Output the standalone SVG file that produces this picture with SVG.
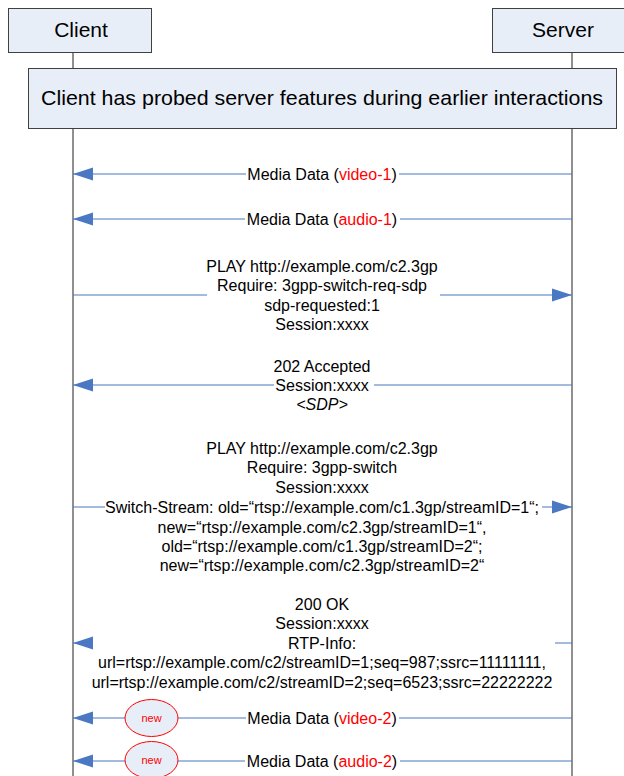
<svg xmlns="http://www.w3.org/2000/svg" width="624" height="776" viewBox="0 0 624 776">
<defs>
<style>
.box{fill:#E8EEF8;stroke:#404040;stroke-width:1}
.life{stroke:#555;stroke-width:1.3;fill:none}
.msg{stroke:#4A78C2;stroke-width:1.2;fill:none;marker-end:url(#ah)}
.t{font-family:"Liberation Sans",Arial,sans-serif;font-size:16px;fill:#000;text-anchor:middle}
.h{font-family:"Liberation Sans",Arial,sans-serif;font-size:21px;fill:#000;text-anchor:middle}
.r{fill:#FF0000}
.new{fill:#E8EEF8;stroke:#FF0000;stroke-width:1}
.nt{font-family:"Liberation Sans",Arial,sans-serif;font-size:11px;fill:#FF0000;text-anchor:middle}
</style>
<marker id="ah" markerUnits="userSpaceOnUse" markerWidth="20" markerHeight="14" refX="20" refY="7" orient="auto">
<path d="M0,0.5 L20,7 L0,13.5 z" fill="#4A78C2"/>
</marker>
</defs>
<rect width="624" height="776" fill="#fff"/>
<g id="lifelines">
<path class="life" d="M73,52 V68 M73,128 V776"/>
<path class="life" d="M572,52 V68 M572,128 V776"/>
</g>
<g id="client">
<rect class="box" x="8.5" y="8.5" width="143" height="44"/>
<text class="h" x="81" y="37">Client</text>
</g>
<g id="server">
<rect class="box" x="492.5" y="8.5" width="140" height="44"/>
<text class="h" x="563" y="37">Server</text>
</g>
<g id="note">
<rect class="box" x="28.5" y="68.5" width="588" height="60"/>
<text class="h" x="322" y="105" font-size="21.4" textLength="562" lengthAdjust="spacingAndGlyphs">Client has probed server features during earlier interactions</text>
</g>
<g id="connectors">
<path class="msg" d="M572,174 H399 M246,174 H73"/>
<path class="msg" d="M572,219 H400 M245,219 H73"/>
<path class="msg" d="M73,295 H207 M440,295 H572"/>
<path class="msg" d="M572,385 H374 M274,385 H73"/>
<path class="msg" d="M73,507 H105 M542,507 H572"/>
<path class="msg" d="M572,643 H555 M93,643 H73"/>
<path class="msg" d="M572,718 H399 M246,718 H73"/>
<path class="msg" d="M572,761 H400 M245,761 H73"/>
</g>
<g id="labels">
<text class="t" x="322" y="180">Media Data (<tspan class="r">video-1</tspan>)</text>
<text class="t" x="322" y="225">Media Data (<tspan class="r">audio-1</tspan>)</text>
<text class="t" x="322" y="272">PLAY http://example.com/c2.3gp</text>
<text class="t" x="322" y="291">Require: 3gpp-switch-req-sdp</text>
<text class="t" x="322" y="311">sdp-requested:1</text>
<text class="t" x="322" y="330">Session:xxxx</text>
<text class="t" x="322" y="372">202 Accepted</text>
<text class="t" x="322" y="391">Session:xxxx</text>
<text class="t" x="322" y="410" font-style="italic">&lt;SDP&gt;</text>
<text class="t" x="322" y="454">PLAY http://example.com/c2.3gp</text>
<text class="t" x="322" y="473">Require: 3gpp-switch</text>
<text class="t" x="322" y="493">Session:xxxx</text>
<text class="t" x="322" y="513">Switch-Stream: old=“rtsp://example.com/c1.3gp/streamID=1“;</text>
<text class="t" x="322" y="533">new=“rtsp://example.com/c2.3gp/streamID=1“,</text>
<text class="t" x="322" y="552">old=“rtsp://example.com/c1.3gp/streamID=2“;</text>
<text class="t" x="322" y="571">new=“rtsp://example.com/c2.3gp/streamID=2“</text>
<text class="t" x="322" y="610">200 OK</text>
<text class="t" x="322" y="629">Session:xxxx</text>
<text class="t" x="322" y="649">RTP-Info:</text>
<text class="t" x="322" y="668">url=rtsp://example.com/c2/streamID=1;seq=987;ssrc=11111111,</text>
<text class="t" x="322" y="688">url=rtsp://example.com/c2/streamID=2;seq=6523;ssrc=22222222</text>
<text class="t" x="322" y="724">Media Data (<tspan class="r">video-2</tspan>)</text>
<text class="t" x="322" y="767">Media Data (<tspan class="r">audio-2</tspan>)</text>
</g>
<g id="new1">
<ellipse class="new" cx="151.5" cy="718" rx="26.5" ry="18.5"/>
<text class="nt" x="151.5" y="722">new</text>
</g>
<g id="new2">
<ellipse class="new" cx="151.5" cy="760" rx="26.5" ry="18.5"/>
<text class="nt" x="151.5" y="764">new</text>
</g>
</svg>
